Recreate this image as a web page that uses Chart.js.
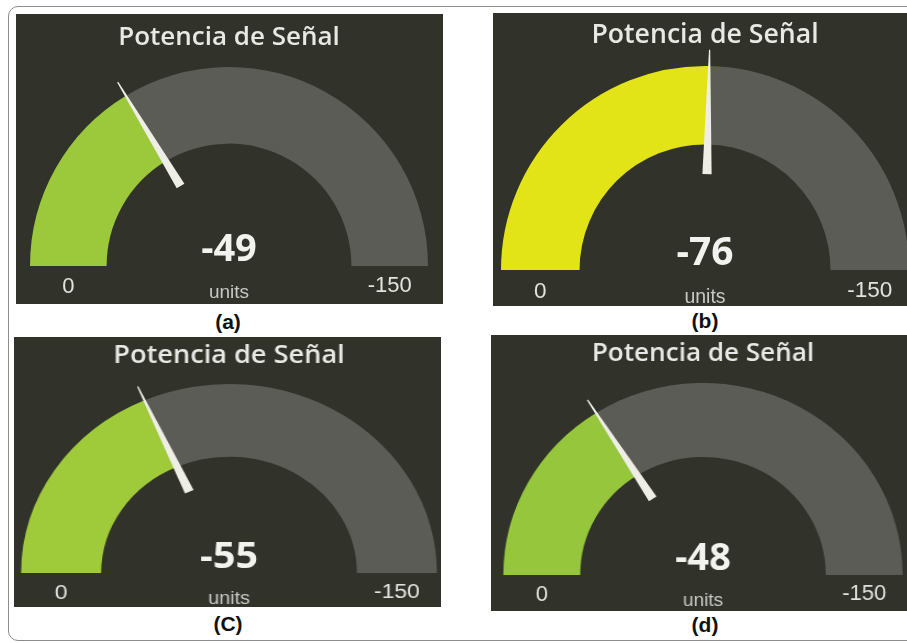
<!DOCTYPE html>
<html>
<head>
<meta charset="utf-8">
<script src="https://cdn.jsdelivr.net/npm/chart.js@4.4.1/dist/chart.umd.min.js"></script>
<style>
  html, body { margin: 0; padding: 0; background: #fff; }
  body { width: 907px; height: 643px; position: relative; overflow: hidden; }
  .frame { position: absolute; left: 8px; top: 6px; width: 930px; height: 633px;
           border: 1px solid #8c8c8c; border-radius: 10px; }
  .panel { position: absolute; background: #31332a; overflow: hidden; }
  .panel canvas { position: absolute; left: 0; top: 0; transform-origin: 0 0; }
  .cap { position: absolute; width: 80px; margin-left: -40px; text-align: center;
         font: bold 21px "Liberation Sans", Arial, sans-serif; color: #111; line-height: 22px; }
</style>
</head>
<body>
<div class="frame"></div>

<script>
// data
const gaugeTitle = 'Potencia de Señal';
const gaugeUnits = 'units';
const gaugeMin = 0;
const gaugeMax = -150;
const captions = ['(a)', '(b)', '(C)', '(d)'];
const values = [-49, -76, -55, -48];
const fillColors = ['#9cc93b', '#e3e418', '#9fca3a', '#95c63c'];
const restColor = '#5a5c55';

// where each gauge sits in the figure
const panels = [
  { x: 16,  y: 14,  w: 427, h: 290, cx: 229, cy: 266, R: 199, sx: 1.0,  capX: 228, capY: 322 },
  { x: 493, y: 13,  w: 427, h: 293, cx: 705, cy: 270, R: 204, sx: 1.0,  capX: 705, capY: 321 },
  { x: 14,  y: 337, w: 427, h: 270, cx: 229, cy: 573, R: 189, sx: 1.1,  capX: 228, capY: 624 },
  { x: 491, y: 335, w: 427, h: 276, cx: 703, cy: 575, R: 192, sx: 1.04, capX: 705, capY: 625 }
];
const cutoutRatio = 0.615;

const gaugePlugin = {
  id: 'gauge',
  afterDatasetsDraw(chart, args, opts) {
    const ctx = chart.ctx;
    const arc = chart.getDatasetMeta(0).data[0];
    const cx = arc.x, cy = arc.y, R = arc.outerRadius, r = arc.innerRadius;
    const f = R / 199;

    // needle
    const a = arc.endAngle;
    const ca = Math.cos(a), sa = Math.sin(a);
    const px = -sa, py = ca;
    const r0 = R * 0.47, r1 = R * 1.08;
    const w0 = 4.5 * f, w1 = 0.6;
    ctx.save();
    ctx.fillStyle = '#eeeee6';
    ctx.beginPath();
    ctx.moveTo(cx + ca * r0 + px * w0, cy + sa * r0 + py * w0);
    ctx.lineTo(cx + ca * r1 + px * w1, cy + sa * r1 + py * w1);
    ctx.lineTo(cx + ca * r1 - px * w1, cy + sa * r1 - py * w1);
    ctx.lineTo(cx + ca * r0 - px * w0, cy + sa * r0 - py * w0);
    ctx.closePath();
    ctx.fill();

    ctx.textAlign = 'center';
    ctx.textBaseline = 'middle';

    ctx.fillStyle = '#e8e8e4';
    ctx.font = '600 ' + (26 * f) + 'px "Open Sans", sans-serif';
    ctx.fillText(gaugeTitle, cx, cy - 1.15 * R);

    ctx.fillStyle = '#f2f2ee';
    ctx.font = 'bold ' + (38 * f) + 'px "Open Sans", sans-serif';
    ctx.fillText(String(opts.value), cx, cy - 16 * f);

    ctx.fillStyle = '#c8c8c4';
    ctx.font = (19 * f) + 'px "Liberation Sans", Arial, sans-serif';
    ctx.fillText(gaugeUnits, cx, cy + 27 * f);

    ctx.fillStyle = '#e2e2de';
    ctx.font = (22 * f) + 'px "Liberation Sans", Arial, sans-serif';
    const band = (R + r) / 2;
    ctx.fillText(String(gaugeMin), cx - band, cy + 21 * f);
    ctx.fillText(String(gaugeMax), cx + band, cy + 20 * f);
    ctx.restore();
  }
};

panels.forEach((p, i) => {
  const div = document.createElement('div');
  div.className = 'panel';
  div.style.left = p.x + 'px';
  div.style.top = p.y + 'px';
  div.style.width = p.w + 'px';
  div.style.height = p.h + 'px';
  document.body.appendChild(div);

  const W = Math.round(p.w / p.sx);
  const canvas = document.createElement('canvas');
  canvas.width = W;
  canvas.height = p.h;
  canvas.style.width = W + 'px';
  canvas.style.height = p.h + 'px';
  canvas.style.transform = 'scaleX(' + p.sx + ')';
  div.appendChild(canvas);

  const cxI = (p.cx - p.x) / p.sx;
  const cyI = p.cy - p.y;
  const span = Math.abs(gaugeMax - gaugeMin);
  const filled = Math.abs(values[i] - gaugeMin);

  new Chart(canvas, {
    type: 'doughnut',
    data: {
      labels: ['value', 'rest'],
      datasets: [{
        data: [filled, span - filled],
        backgroundColor: [fillColors[i], restColor],
        borderWidth: 0
      }]
    },
    options: {
      responsive: false,
      animation: false,
      rotation: -90,
      circumference: 180,
      cutout: (cutoutRatio * 100) + '%',
      layout: {
        padding: {
          left: cxI - p.R,
          right: W - (cxI + p.R),
          top: cyI - p.R,
          bottom: p.h - cyI
        }
      },
      plugins: {
        legend: { display: false },
        tooltip: { enabled: false },
        gauge: { value: values[i] }
      }
    },
    plugins: [gaugePlugin]
  });

  const cap = document.createElement('div');
  cap.className = 'cap';
  cap.textContent = captions[i];
  cap.style.left = p.capX + 'px';
  cap.style.top = (p.capY - 11) + 'px';
  document.body.appendChild(cap);
});
</script>
</body>
</html>
